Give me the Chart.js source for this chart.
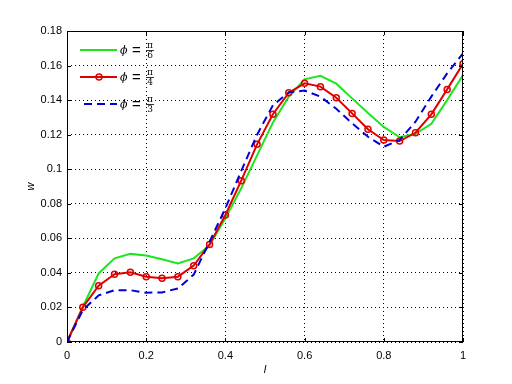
<!DOCTYPE html>
<html>
<head>
<meta charset="utf-8">
<script src="https://cdn.jsdelivr.net/npm/chart.js@4.4.0/dist/chart.umd.min.js"></script>
<style>
  html, body { margin: 0; padding: 0; background: #fff; }
  #wrap { width: 512px; height: 384px; }
</style>
</head>
<body>
<div id="wrap"><canvas id="plot" width="512" height="384"></canvas></div>
<script>
// sampled positions along l
const lValues = [0, 0.04, 0.08, 0.12, 0.16, 0.2, 0.24, 0.28, 0.32, 0.36, 0.4, 0.44, 0.48,
  0.52, 0.56, 0.6, 0.64, 0.68, 0.72, 0.76, 0.8, 0.84, 0.88, 0.92, 0.96, 1];

// w for phi = pi/6, pi/4, pi/3
const wPhi6 = [0, 0.0204, 0.0397, 0.0484, 0.0510, 0.0500, 0.0479, 0.0455, 0.0484, 0.0560,
  0.0716, 0.089, 0.108, 0.127, 0.142, 0.1520, 0.1541, 0.1495, 0.1410, 0.1325, 0.1245,
  0.1185, 0.1205, 0.1263, 0.140, 0.1545];
const wPhi4 = [0, 0.0201, 0.0326, 0.0392, 0.0403, 0.0378, 0.0369, 0.0378, 0.0442, 0.0565,
  0.0735, 0.0934, 0.1144, 0.1318, 0.1443, 0.1497, 0.1478, 0.1414, 0.1323, 0.1231, 0.1169,
  0.1163, 0.1211, 0.1318, 0.1462, 0.1610];
const wPhi3 = [0, 0.0185, 0.027, 0.030, 0.030, 0.0285, 0.0287, 0.031, 0.039, 0.058,
  0.0774, 0.099, 0.120, 0.137, 0.1445, 0.1455, 0.142, 0.135, 0.1266, 0.1188, 0.113,
  0.1169, 0.1275, 0.142, 0.1555, 0.167];

const xTicks = [0, 0.2, 0.4, 0.6, 0.8, 1];
const yTicks = [0, 0.02, 0.04, 0.06, 0.08, 0.1, 0.12, 0.14, 0.16, 0.18];

// legend fractions: phi = pi / d
const legendDenoms = ['6', '4', '3'];
const seriesColors = ['#1ee61e', '#e00000', '#0000d8'];

function pts(ys) {
  return lValues.map((x, i) => ({ x: x, y: ys[i] }));
}

const fontFamily = '"Liberation Sans", Arial, sans-serif';
Chart.defaults.font.family = fontFamily;
Chart.defaults.font.size = 11;
Chart.defaults.color = '#000';

// box, inward ticks, axis titles and legend
const matlabLook = {
  id: 'matlabLook',
  afterDatasetsDraw(chart) {
    const ctx = chart.ctx;
    const a = chart.chartArea;
    const xs = chart.scales.x, ys = chart.scales.y;
    ctx.save();
    ctx.strokeStyle = '#000';
    ctx.lineWidth = 1;
    ctx.setLineDash([]);
    ctx.strokeRect(a.left + 0.5, a.top + 0.5, a.right - a.left - 1, a.bottom - a.top - 1);
    ctx.beginPath();
    xTicks.forEach(v => {
      const px = Math.round(xs.getPixelForValue(v)) + 0.5;
      ctx.moveTo(px, a.bottom); ctx.lineTo(px, a.bottom - 4);
      ctx.moveTo(px, a.top); ctx.lineTo(px, a.top + 4);
    });
    yTicks.forEach(v => {
      const py = Math.round(ys.getPixelForValue(v)) + 0.5;
      ctx.moveTo(a.left, py); ctx.lineTo(a.left + 4, py);
      ctx.moveTo(a.right, py); ctx.lineTo(a.right - 4, py);
    });
    ctx.stroke();

    // axis titles
    ctx.fillStyle = '#000';
    ctx.font = 'italic 11px ' + fontFamily;
    ctx.textAlign = 'center';
    ctx.textBaseline = 'middle';
    ctx.fillText('l', (a.left + a.right) / 2, 370);
    ctx.save();
    ctx.translate(31, (a.top + a.bottom) / 2);
    ctx.rotate(-Math.PI / 2);
    ctx.fillText('w', 0, 0);
    ctx.restore();

    // legend
    const rows = [50, 77, 104];
    chart.data.datasets.forEach((ds, i) => {
      const y = rows[i];
      ctx.save();
      ctx.strokeStyle = ds.borderColor;
      ctx.lineWidth = 2;
      ctx.setLineDash(ds.borderDash || []);
      ctx.beginPath();
      ctx.moveTo(ds.borderDash ? 84 : 80, y);
      ctx.lineTo(117, y);
      ctx.stroke();
      if (ds.pointRadius > 0) {
        ctx.setLineDash([]);
        ctx.lineWidth = 1.5;
        ctx.beginPath();
        ctx.arc(99, y, 3, 0, Math.PI * 2);
        ctx.stroke();
      }
      ctx.restore();
      ctx.fillStyle = '#000';
      ctx.textAlign = 'left';
      ctx.font = 'italic 11px "DejaVu Serif", serif';
      ctx.fillText('\u03d5', 120, y + 1);
      ctx.font = '15px ' + fontFamily;
      ctx.fillText('=', 132, y + 1);
      ctx.font = '9px "DejaVu Serif", serif';
      ctx.textAlign = 'center';
      ctx.fillText('\u03c0', 150, y - 4);
      ctx.fillText(legendDenoms[i], 150, y + 6);
      ctx.beginPath();
      ctx.lineWidth = 0.8;
      ctx.moveTo(146, y + 0.5);
      ctx.lineTo(154, y + 0.5);
      ctx.stroke();
    });
    ctx.restore();
  }
};

new Chart(document.getElementById('plot'), {
  type: 'line',
  data: {
    datasets: [
      {
        label: '\u03d5 = \u03c0/6', data: pts(wPhi6), borderColor: seriesColors[0],
        borderWidth: 2, pointRadius: 0, tension: 0, order: 3
      },
      {
        label: '\u03d5 = \u03c0/4', data: pts(wPhi4), borderColor: seriesColors[1],
        borderWidth: 2, pointRadius: 3, pointBorderWidth: 1.5,
        pointBorderColor: seriesColors[1], pointBackgroundColor: 'rgba(0,0,0,0)',
        tension: 0, order: 2
      },
      {
        label: '\u03d5 = \u03c0/3', data: pts(wPhi3), borderColor: seriesColors[2],
        borderWidth: 2, borderDash: [8, 5], pointRadius: 0, tension: 0, order: 1
      }
    ]
  },
  options: {
    responsive: false,
    animation: false,
    layout: { padding: { top: 31, right: 49, left: 0, bottom: 0 } },
    plugins: { legend: { display: false }, tooltip: { enabled: false } },
    scales: {
      x: {
        type: 'linear', min: 0, max: 1,
        afterBuildTicks: s => { s.ticks = xTicks.map(v => ({ value: v })); },
        afterFit: s => { s.height = 42; },
        ticks: { padding: 7, maxRotation: 0, callback: v => String(+v.toFixed(2)) },
        grid: { color: '#000', lineWidth: 1, drawTicks: false },
        border: { display: false, dash: [1, 3] }
      },
      y: {
        type: 'linear', min: 0, max: 0.18,
        afterBuildTicks: s => { s.ticks = yTicks.map(v => ({ value: v })); },
        afterFit: s => { s.width = 67; },
        ticks: { padding: 5, callback: v => String(+v.toFixed(2)) },
        grid: { color: '#000', lineWidth: 1, drawTicks: false },
        border: { display: false, dash: [1, 3] }
      }
    }
  },
  plugins: [matlabLook]
});
</script>
</body>
</html>
